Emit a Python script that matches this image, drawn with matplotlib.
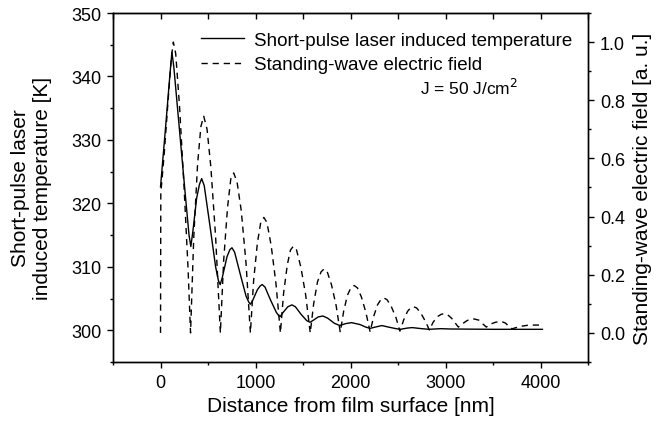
import matplotlib
matplotlib.use("Agg")
import matplotlib.pyplot as plt
from matplotlib.ticker import MultipleLocator

plt.rcParams['font.family'] = ['Liberation Sans', 'DejaVu Sans']

# Short-pulse laser induced temperature [K] vs distance [nm]
temp_x = [0, 60, 100, 120, 140, 200, 260, 300, 319, 340, 380, 410, 433, 460,
          520, 580, 610, 628, 650, 700, 730, 752, 780, 840, 900, 930, 947, 970,
          1020, 1050, 1071, 1100, 1160, 1220, 1245, 1259, 1290, 1340, 1383,
          1420, 1480, 1540, 1574, 1610, 1660, 1709, 1760, 1830, 1886, 1950,
          2011, 2100, 2160, 2206, 2260, 2330, 2400, 2480, 2525, 2600, 2649,
          2750, 2826, 2950, 3050, 3500, 4020]
temp_k = [322.6, 333.2, 340.5, 343.8, 341.5, 331.5, 321.5, 315.0, 313.2, 315.5,
          320.8, 323.0, 323.9, 322.8, 316.5, 310.0, 307.8, 307.2, 308.3, 311.6,
          312.7, 313.0, 312.3, 308.8, 305.4, 304.4, 304.1, 304.7, 306.4, 307.0,
          307.2, 306.8, 304.7, 302.8, 302.3, 302.15, 302.8, 303.7, 304.0, 303.7,
          302.5, 301.5, 301.26, 301.6, 302.1, 302.25, 301.9, 301.1, 300.75,
          301.05, 301.2, 300.9, 300.5, 300.3, 300.5, 300.74, 300.5, 300.25,
          300.15, 300.35, 300.42, 300.25, 300.15, 300.25, 300.2, 300.15, 300.15]

# Standing-wave electric field [a. u.] vs distance [nm]
field_x = [0, 3, 40, 80, 115, 135, 160, 200, 248, 290, 316,
           350, 390, 425, 455, 490, 530, 580, 630,
           665, 705, 740, 770, 805, 850, 900, 946,
           980, 1020, 1055, 1088, 1120, 1165, 1215, 1262,
           1295, 1335, 1368, 1398, 1432, 1478, 1528, 1576,
           1612, 1652, 1690, 1722, 1755, 1800, 1848, 1892,
           1928, 1968, 2005, 2038, 2072, 2115, 2162, 2206,
           2245, 2285, 2320, 2352, 2385, 2430, 2478, 2520,
           2560, 2600, 2632, 2662, 2695, 2740, 2788, 2830,
           2870, 2915, 2955, 2985, 3020, 3065, 3100, 3135,
           3180, 3230, 3300, 3350, 3395, 3430,
           3470, 3530, 3590, 3630, 3670, 3700,
           3780, 3860, 3940, 4020]
field_v = [0.0, 0.48, 0.62, 0.80, 0.95, 1.0, 0.96, 0.78, 0.50, 0.22, 0.0,
           0.33, 0.58, 0.71, 0.745, 0.70, 0.57, 0.33, 0.0,
           0.25, 0.43, 0.53, 0.55, 0.52, 0.42, 0.24, 0.0,
           0.18, 0.31, 0.38, 0.397, 0.38, 0.30, 0.17, 0.0,
           0.135, 0.235, 0.285, 0.298, 0.285, 0.225, 0.13, 0.0,
           0.10, 0.175, 0.21, 0.22, 0.21, 0.165, 0.095, 0.002,
           0.075, 0.13, 0.156, 0.163, 0.155, 0.123, 0.07, 0.004,
           0.058, 0.097, 0.115, 0.12, 0.114, 0.09, 0.053, 0.006,
           0.045, 0.074, 0.086, 0.09, 0.086, 0.068, 0.04, 0.01,
           0.037, 0.056, 0.064, 0.066, 0.063, 0.05, 0.035, 0.02,
           0.032, 0.043, 0.048, 0.044, 0.03, 0.02,
           0.03, 0.037, 0.039, 0.034, 0.022, 0.014,
           0.022, 0.026, 0.027, 0.027]

fig = plt.figure(figsize=(6.59, 4.31), dpi=100)
ax = fig.add_axes([0.1715, 0.1578, 0.7208, 0.8097])
ax2 = ax.twinx()

l1, = ax.plot(temp_x, temp_k, color='black', lw=1.0, solid_joinstyle='round')
l2, = ax2.plot(field_x, field_v, color='black', lw=1.0, dashes=(4.5, 3.5))

ax.set_xlim(-500, 4500)
ax.set_ylim(295, 350)
ax2.set_ylim(-0.1, 1.1)

fs_tick = 13
fs_lab = 15
fs_leg = 13.5

ax.xaxis.set_major_locator(MultipleLocator(1000))
ax.xaxis.set_minor_locator(MultipleLocator(500))
ax.yaxis.set_major_locator(MultipleLocator(10))
ax.yaxis.set_minor_locator(MultipleLocator(5))
ax2.yaxis.set_major_locator(MultipleLocator(0.2))
ax2.yaxis.set_minor_locator(MultipleLocator(0.1))
ax2.yaxis.set_major_formatter(plt.FuncFormatter(lambda v, p: f"{v:.1f}"))

for a in (ax, ax2):
    a.tick_params(which='major', direction='out', length=4.5, width=1.0,
                  labelsize=fs_tick, pad=4)
    a.tick_params(which='minor', direction='out', length=2.5, width=1.0)
    for s in a.spines.values():
        s.set_linewidth(1.0)

top = ax.secondary_xaxis('top')
top.xaxis.set_major_locator(MultipleLocator(500))
top.tick_params(direction='in', length=4.5, width=1.0, labeltop=False)
top.xaxis.set_minor_locator(plt.NullLocator())

ax.set_xlabel('Distance from film surface [nm]', fontsize=fs_lab, labelpad=4)
ax.set_ylabel('Short-pulse laser\ninduced temperature [K]', fontsize=fs_lab, labelpad=14)
ax2.set_ylabel('Standing-wave electric field [a. u.]', fontsize=fs_lab, labelpad=6)

ax.text(2730, 338.4, 'J = 50 J/cm$^2$', fontsize=12.5, va='center', ha='left')

ax.legend([l1, l2], ['Short-pulse laser induced temperature', 'Standing-wave electric field'],
          loc='upper left', bbox_to_anchor=(0.185, 0.947), frameon=False,
          fontsize=fs_leg, handlelength=2.3, handletextpad=0.53,
          labelspacing=0.4, borderpad=0, borderaxespad=0)

fig.savefig('out.png', dpi=100)
